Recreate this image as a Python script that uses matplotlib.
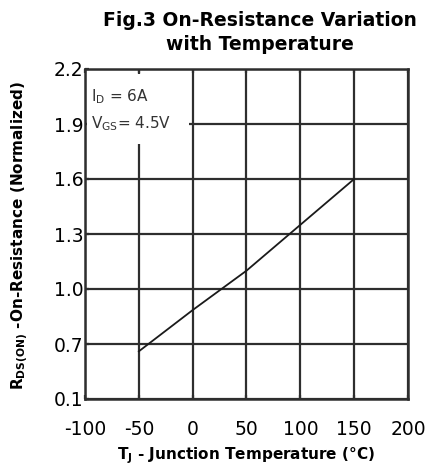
import matplotlib
matplotlib.use("Agg")
import matplotlib.pyplot as plt
from matplotlib.patches import Rectangle

plt.rcParams['font.family'] = ['DejaVu Sans']
plt.rcParams['mathtext.fontset'] = 'custom'
plt.rcParams['mathtext.rm'] = 'DejaVu Sans'
plt.rcParams['mathtext.bf'] = 'DejaVu Sans:bold'
plt.rcParams['mathtext.it'] = 'DejaVu Sans:italic'

# Data
temperature = [-50, 0, 50, 100, 150]
rds_norm = [0.66, 0.885, 1.10, 1.35, 1.60]

x_ticks = [-100, -50, 0, 50, 100, 150, 200]
x_tick_labels = ["-100", "-50", "0", "50", "100", "150", "200"]
y_ticks = [0.4, 0.7, 1.0, 1.3, 1.6, 1.9, 2.2]
y_tick_labels = ["0.1", "0.7", "1.0", "1.3", "1.6", "1.9", "2.2"]

title = "Fig.3 On-Resistance Variation\nwith Temperature"
xlabel = r"T$_\mathbf{J}$ - Junction Temperature (°C)"
ylabel = r"R$_\mathbf{DS(ON)}$ -On-Resistance (Normalized)"
annot = [r"I$_\mathrm{D}$ = 6A", r"V$_\mathrm{GS}$= 4.5V"]

W, H = 428, 468
fig = plt.figure(figsize=(W / 100, H / 100), dpi=100)
ax = fig.add_axes([85 / W, 1 - 399 / H, (408 - 85) / W, (399 - 69) / H])

grid_color = '#2e2e2e'
ax.set_xlim(-100, 200)
ax.set_ylim(0.4, 2.2)
ax.set_xticks(x_ticks)
ax.set_xticklabels(x_tick_labels)
ax.set_yticks(y_ticks)
ax.set_yticklabels(y_tick_labels)
ax.set_axisbelow(True)
ax.grid(True, color=grid_color, linewidth=1.6)
ax.tick_params(axis='x', direction='in', top=True, length=3, width=1.6,
               color=grid_color, labelsize=13.5, pad=15)
ax.tick_params(axis='y', direction='in', length=3, width=1.6,
               color=grid_color, labelsize=13.5, pad=1)
for s in ax.spines.values():
    s.set_linewidth(1.8)
    s.set_color(grid_color)

# white box behind annotation
ax.add_patch(Rectangle((-98.5, 1.79), 95, 0.385, facecolor='white',
                       edgecolor='none', zorder=1))

ax.plot(temperature, rds_norm, color='#1a1a1a', linewidth=1.3, zorder=2)

ax.text(-94, 2.10, annot[0], fontsize=11, color='#333333', va='top', ha='left', zorder=3)
ax.text(-94, 1.955, annot[1], fontsize=11, color='#333333', va='top', ha='left', zorder=3)

fig.text(260 / W, 1 - 11 / H, title, ha='center', va='top', fontsize=13.5,
         fontweight='bold', linespacing=1.3)
fig.text(246 / W, 1 - 456 / H, xlabel, ha='center', va='center', fontsize=11,
         fontweight='bold')
fig.text(20 / W, 1 - 235 / H, ylabel, ha='center', va='center', fontsize=11,
         fontweight='bold', rotation=90)

fig.savefig("out.png", dpi=100)
